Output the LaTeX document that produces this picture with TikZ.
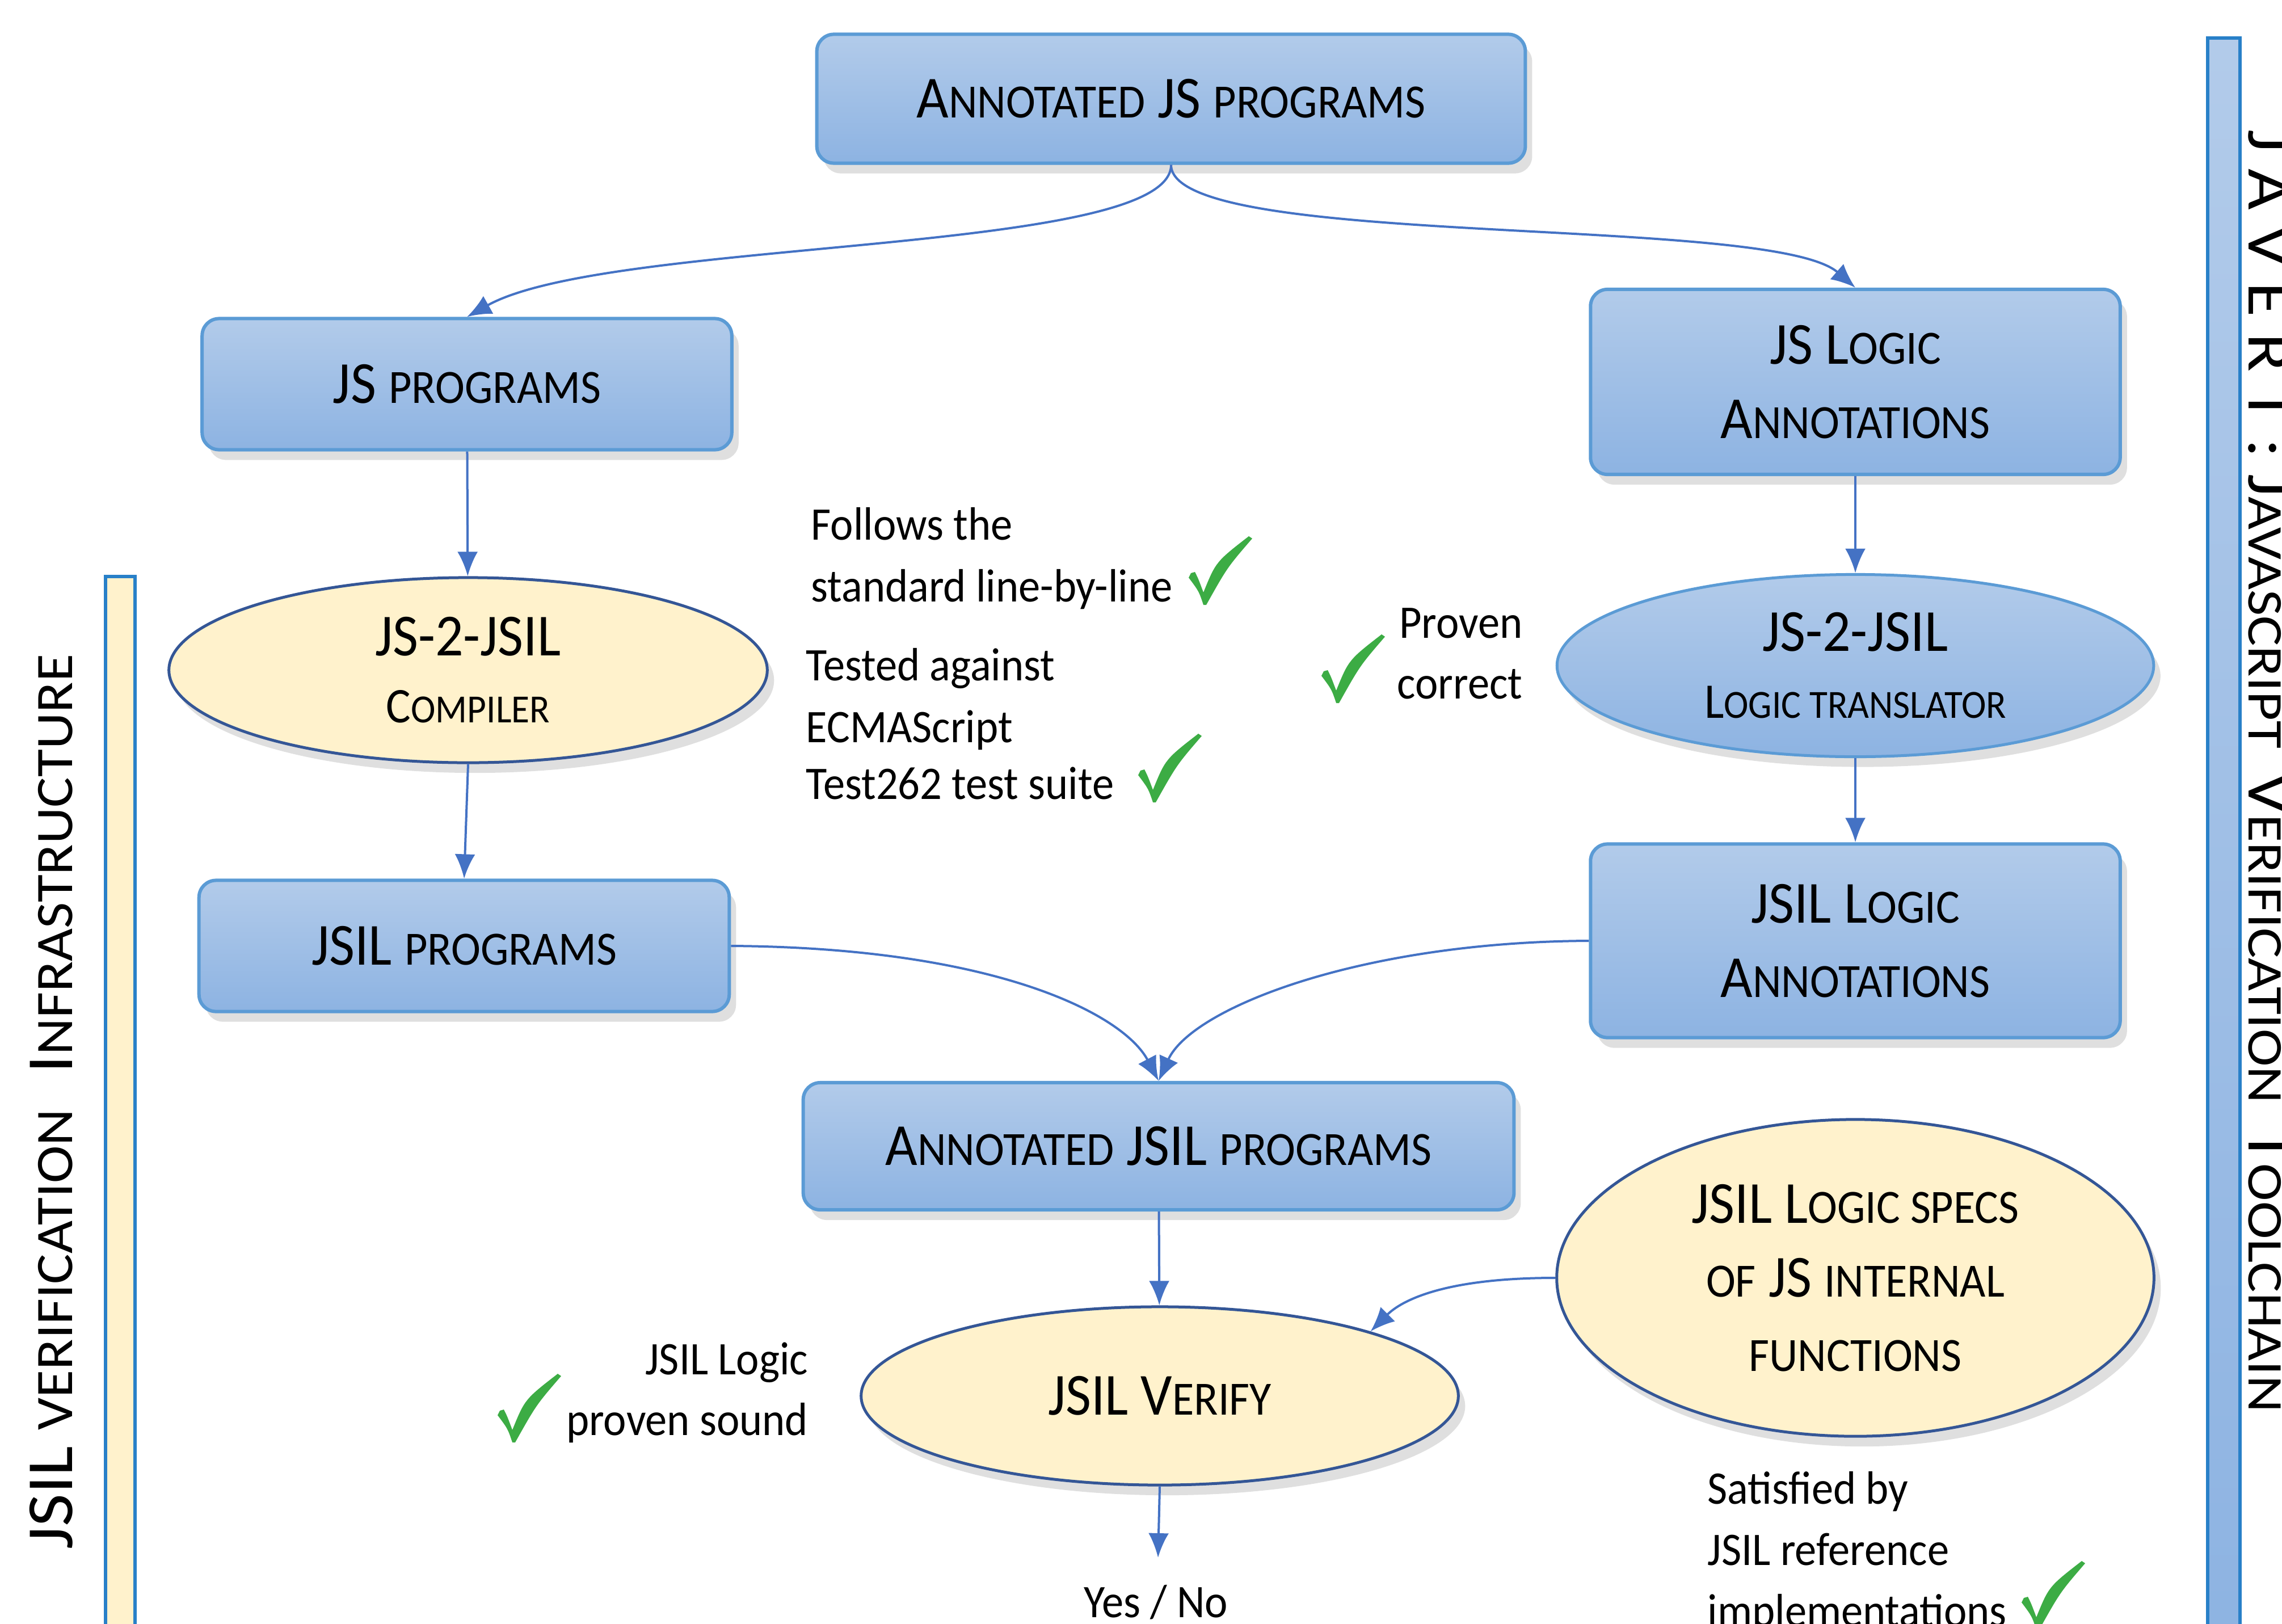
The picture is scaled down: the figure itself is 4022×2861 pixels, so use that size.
\documentclass[tikz,border=0pt]{standalone}
\usepackage{fontspec}
\setmainfont[FakeStretch=0.93]{Carlito}
\newfontfamily\rfont[FakeStretch=1.14]{Carlito}
\newfontfamily\lfont[FakeStretch=1.08]{Carlito}
\usepackage{graphicx}
\usetikzlibrary{shadows,arrows.meta,shapes.geometric}
\newcommand\sm[1]{\scalebox{0.8}{#1}}
\newcommand\fsz[2]{\fontsize{#1}{#2}\selectfont}
\definecolor{boxtop}{RGB}{178,203,234}
\definecolor{boxbot}{RGB}{141,179,226}
\definecolor{boxborder}{RGB}{91,155,213}
\definecolor{cream}{RGB}{255,242,204}
\definecolor{ellborder}{RGB}{52,86,150}
\definecolor{arrowblue}{RGB}{68,114,196}
\definecolor{barblue}{RGB}{40,128,200}
\definecolor{chkgreen}{RGB}{60,172,68}
\tikzset{
  shad/.style={drop shadow={opacity=0.25, shadow xshift=0.12cm, shadow yshift=-0.18cm}},
  bluebox/.style={rectangle, rounded corners=0.3cm, draw=boxborder, line width=0.06cm,
    top color=boxtop, bottom color=boxbot, shad, align=center, inner sep=0pt,
    font=\fsz{29.9pt}{37.2pt}},
  creamell/.style={ellipse, draw=ellborder, line width=0.05cm, fill=cream, shad,
    align=center, inner sep=0pt, font=\fsz{29.9pt}{37.2pt}},
  blueell/.style={ellipse, draw=boxborder, line width=0.05cm, top color=boxtop,
    bottom color=boxbot, shad, align=center, inner sep=0pt, font=\fsz{29.9pt}{37.2pt}},
  conn/.style={draw=arrowblue, line width=0.04cm, -{Latex[length=0.43cm,width=0.36cm]}},
  note/.style={font=\fsz{23.4pt}{30.7pt}, inner sep=0pt},
  chk/.pic={\fill[chkgreen] (0,4) .. controls (-8,-20) .. (-26,-44) -- (-22,-52) -- (-15,-54)
     .. controls (-9,-42) .. (0,-18) .. controls (22,-72) .. (80,-117) -- (86,-113)
     .. controls (42,-62) .. (5,4) -- cycle;}
}
\begin{document}
\begin{tikzpicture}[x=0.01cm,y=-0.01cm]
\useasboundingbox (0,0) rectangle (4022,2861);
\clip (0,0) rectangle (4022,2861);

% side bars
\node[rectangle, draw=barblue, line width=0.06cm, fill=cream, anchor=north west,
  minimum width=0.52cm, minimum height=19.5cm, inner sep=0pt] (lbar) at (183,1013) {};
\node[rectangle, draw=barblue, line width=0.06cm, top color=boxtop, bottom color=boxbot,
  anchor=north west, minimum width=0.57cm, minimum height=28.5cm, inner sep=0pt] (rbar) at (3888,64) {};

\node[rotate=90, anchor=base west, font=\lfont\fsz{33pt}{33pt}, inner sep=0pt] (ltext) at (127,2731)
  {JSIL \sm{VERIFICATION}\hspace{0.3em} I\sm{NFRASTRUCTURE}};
\node[rotate=-90, anchor=base west, font=\rfont\fsz{31.3pt}{31.3pt}, inner sep=0pt] (rtext) at (3963,228)
  {J A V E R T : J\sm{AVASCRIPT}\hspace{0.15em} V\sm{ERIFICATION}\hspace{0.15em} T\sm{OOLCHAIN}};

% main nodes
\node[bluebox, minimum width=12.48cm, minimum height=2.27cm] (top) at (2064,174)
  {A\sm{NNOTATED} JS \sm{PROGRAMS}};
\node[bluebox, minimum width=9.33cm, minimum height=2.31cm] (jsprog) at (823,677)
  {JS \sm{PROGRAMS}};
\node[bluebox, minimum width=9.33cm, minimum height=3.26cm] (jslogic) at (3270,673)
  {JS L\sm{OGIC}\\A\sm{NNOTATIONS}};
\node[creamell, minimum width=10.54cm, minimum height=3.26cm, font=\fsz{29.9pt}{33.6pt}] (compiler) at (825,1181)
  {JS-2-JSIL\\{\fsz{25pt}{33.6pt}C\sm{OMPILER}}};
\node[blueell, minimum width=10.51cm, minimum height=3.21cm, font=\fsz{29.9pt}{33.6pt}] (translator) at (3270,1173)
  {JS-2-JSIL\\{\fsz{25pt}{33.6pt}L\sm{OGIC TRANSLATOR}}};
\node[bluebox, minimum width=9.34cm, minimum height=2.31cm] (jsilprog) at (818,1667)
  {JSIL \sm{PROGRAMS}};
\node[bluebox, minimum width=9.33cm, minimum height=3.41cm] (jsillogic) at (3270,1658)
  {JSIL L\sm{OGIC}\\A\sm{NNOTATIONS}};
\node[bluebox, minimum width=12.52cm, minimum height=2.24cm] (annjsil) at (2042,2020)
  {A\sm{NNOTATED} JSIL \sm{PROGRAMS}};
\node[creamell, minimum width=10.52cm, minimum height=5.58cm] (specs) at (3270,2252)
  {JSIL L\sm{OGIC SPECS}\\\sm{OF} JS \sm{INTERNAL}\\\sm{FUNCTIONS}};
\node[creamell, minimum width=10.52cm, minimum height=3.14cm] (verify) at (2044,2460)
  {JSIL V\sm{ERIFY}};
\node[note, anchor=base] (yn) at (2037,2850) {Yes / No};
\coordinate (ynin) at (2041,2745);

% annotations
\node[note, anchor=base west] (a1) at (1429,951) {Follows the};
\node[note, anchor=base west] (a2) at (1429,1060) {standard line-by-line};
\node[note, anchor=base west] (b1) at (1420,1199) {Tested against};
\node[note, anchor=base west] (b2) at (1420,1308) {ECMAScript};
\node[note, anchor=base west] (b3) at (1420,1408) {Test262 test suite};
\node[note, anchor=base east] (c1) at (2684,1124) {Proven};
\node[note, anchor=base east] (c2) at (2684,1231) {correct};
\node[note, anchor=base east] (d1) at (1425,2422) {JSIL Logic};
\node[note, anchor=base east] (d2) at (1425,2529) {proven sound};
\node[note, anchor=base west] (e1) at (3009,2650) {Satisfied by};
\node[note, anchor=base west] (e2) at (3009,2758) {JSIL reference};
\node[note, anchor=base west] (e3) at (3009,2866) {implementations};

\pic at (2121,1062) {chk};
\pic at (2032,1410) {chk};
\pic at (2355,1235) {chk};
\pic at (903,2538) {chk};
\pic at (3589,2868) {chk};

% connectors
\draw[conn] (top.south) .. controls +(0,160) and +(250,-140) .. (jsprog.north);
\draw[conn] (top.south) .. controls +(0,150) and +(-150,-130) .. (jslogic.north);
\draw[conn] (jsprog) -- (compiler);
\draw[conn] (compiler.south) -- (jsilprog.north);
\draw[conn] (jslogic) -- (translator);
\draw[conn] (translator) -- (jsillogic);
\draw[conn] (jsilprog.east) .. controls +(465,3) and +(-62,-118) .. (annjsil.north);
\draw[conn] (jsillogic.west) .. controls +(-404,2) and +(58,-128) .. (annjsil.north);
\draw[conn] (annjsil) -- (verify);
\draw[conn] (specs.west) .. controls +(-195,0) and +(55,-55) .. (verify.17);
\draw[conn] (verify.south) -- (ynin);
\end{tikzpicture}
\end{document}
